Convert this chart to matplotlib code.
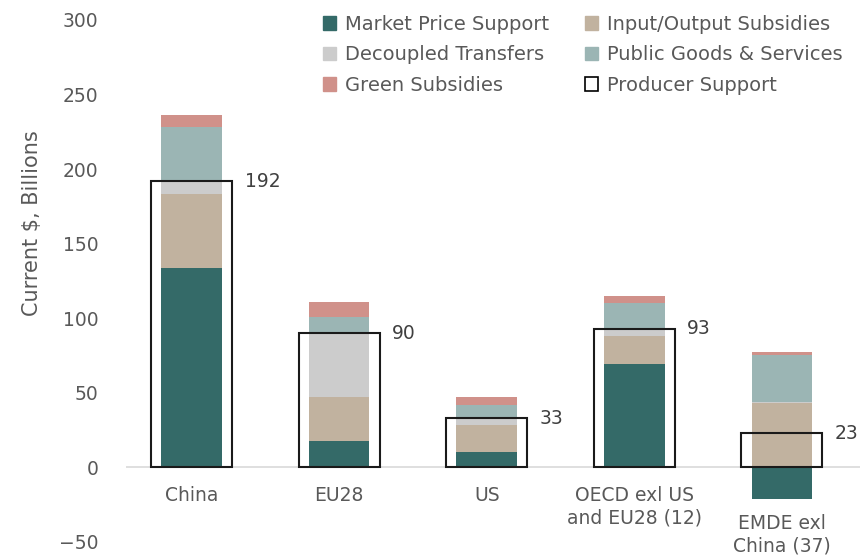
import numpy as np
import matplotlib.pyplot as plt
from matplotlib.patches import Patch

# Categories and series (current $, billions)
categories = ['China', 'EU28', 'US', 'OECD exl US\nand EU28 (12)', 'EMDE exl\nChina (37)']
market_price = [134, 17.5, 10, 69, -21]
input_output = [49, 29.5, 18.5, 19, 43]
decoupled = [9, 43, 4.5, 5, 1]
public_goods = [36, 11, 9, 17, 31.5]
green = [8, 10, 5.5, 5, 2]
producer_support = [192, 90, 33, 93, 23]

c_mps = '#346a68'
c_io = '#c1b29f'
c_dt = '#cccccc'
c_pg = '#9bb5b4'
c_green = '#d0918a'
txt = '#595959'

plt.rcParams['font.family'] = ['DejaVu Sans']

fig = plt.figure(figsize=(8.6, 5.56), dpi=100)
ax = fig.add_axes([0.1465, 0.0252, 0.8535, 0.939])

x = np.arange(len(categories))
bw = 0.41
mps = np.array(market_price)
io = np.array(input_output)
dt = np.array(decoupled)
pg = np.array(public_goods)
gr = np.array(green)

# positive parts stack from 0, negative market price goes below
base = np.where(mps > 0, mps, 0)
ax.bar(x, mps, bw, color=c_mps, zorder=2)
ax.bar(x, io, bw, bottom=base, color=c_io, zorder=2)
base = base + io
ax.bar(x, dt, bw, bottom=base, color=c_dt, zorder=2)
base = base + dt
ax.bar(x, pg, bw, bottom=base, color=c_pg, zorder=2)
base = base + pg
ax.bar(x, gr, bw, bottom=base, color=c_green, zorder=2)

# producer support outline boxes
ax.bar(x, producer_support, 0.55, fill=False, edgecolor='#1a1a1a', linewidth=1.5, zorder=3)
for xi, v in zip(x, producer_support):
    ax.annotate(str(v), (xi + 0.275, v), xytext=(9, 0), textcoords='offset points',
                ha='left', va='center', fontsize=13.5, color='#404040')

# category labels below the bars
for xi, lab, m in zip(x, categories, mps):
    y0 = min(0, m)
    off = -13.5 if m >= 0 else -11
    ax.annotate(lab, (xi, y0), xytext=(0, off), textcoords='offset points',
                ha='center', va='top', fontsize=13.5, color=txt, linespacing=1.25)

ax.axhline(0, color='#d9d9d9', linewidth=1.2, zorder=1)
ax.set_ylim(-50, 300)
ax.set_xlim(-0.445, 4.53)
ax.set_yticks(np.arange(-50, 301, 50))
ax.set_xticks([])
ax.tick_params(axis='y', length=0, labelsize=13.5, labelcolor=txt, pad=20)
for s in ax.spines.values():
    s.set_visible(False)
ax.set_ylabel('Current $, Billions', fontsize=15, color=txt)
ax.yaxis.set_label_coords(-0.114, 0.61)

handles = [Patch(color=c_mps, label='Market Price Support'),
           Patch(color=c_dt, label='Decoupled Transfers'),
           Patch(color=c_green, label='Green Subsidies'),
           Patch(color=c_io, label='Input/Output Subsidies'),
           Patch(color=c_pg, label='Public Goods & Services'),
           Patch(facecolor='white', edgecolor='black', linewidth=1.2, label='Producer Support')]
leg = ax.legend(handles=handles, ncol=2, loc='upper left', bbox_to_anchor=(0.268, 1.01),
                frameon=False, fontsize=14, handlelength=0.7, handleheight=0.7,
                handletextpad=0.47, columnspacing=1.8, labelspacing=0.6, labelcolor=txt,
                borderpad=0, borderaxespad=0)

fig.savefig('out.png', dpi=100)
